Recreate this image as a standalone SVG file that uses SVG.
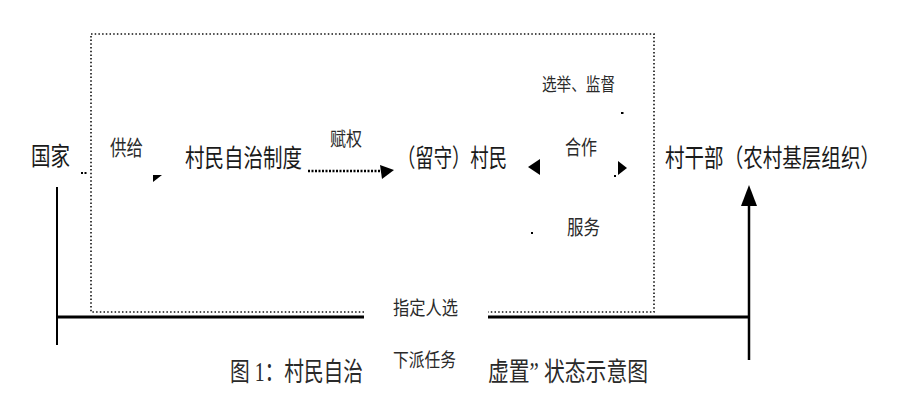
<svg xmlns="http://www.w3.org/2000/svg" width="919" height="412" viewBox="0 0 919 412">
<style>
  text { font-family: "Liberation Serif", "Noto Sans CJK SC", serif; fill: #1a1a1a; }
  .main { font-size: 22px; }
  .lbl { font-size: 19px; fill: #2a2a2a; }
  .cap { font-size: 23px; fill: #2a2a2a; }
  .dot { fill: none; stroke: #111; stroke-width: 1.6; stroke-dasharray: 1.5 2.2; }
  .solid { fill: none; stroke: #000; }
  .head { fill: #000; }
</style>
<rect width="919" height="412" fill="#fff"/>

<g id="connectors">
  <path class="dot" d="M91,34 H654 V312 H488 M364,312 H91 V34"/>
  <line class="solid" x1="57" y1="317" x2="364" y2="317" stroke-width="3"/>
  <line class="solid" x1="488" y1="317" x2="749" y2="317" stroke-width="3"/>
  <line class="solid" x1="57" y1="187" x2="57" y2="345" stroke-width="2"/>
  <line class="solid" x1="749" y1="200" x2="749" y2="360" stroke-width="2.5"/>
  <polygon class="head" points="749,185 757,206 741,206"/>
  <line x1="308" y1="171" x2="383" y2="171" stroke="#000" stroke-width="2.5" stroke-dasharray="2 1.5"/>
  <polygon class="head" points="380,165 394,170 382,179"/>
  <polygon class="head" points="528,167 540,159 540,175"/>
  <polygon class="head" points="627,168 618,161 618,175"/>
  <polygon class="head" points="153,175 162,175 153,182"/>
  <rect class="head" x="81" y="172" width="2" height="2"/>
  <rect class="head" x="84.5" y="172" width="2" height="2"/>
  <rect class="head" x="621" y="112" width="2.5" height="2"/>
  <rect class="head" x="614" y="175" width="2" height="2"/>
  <rect class="head" x="531" y="232" width="2" height="2"/>
</g>

<g id="node-guojia">
  <text class="main" transform="translate(31,165) scale(1,1.14)" x="0" y="0" textLength="39" lengthAdjust="spacingAndGlyphs">国家</text>
</g>
<g id="node-zhidu">
  <text class="main" transform="translate(185,167) scale(1,1.14)" x="0" y="0" textLength="117" lengthAdjust="spacingAndGlyphs">村民自治制度</text>
</g>
<g id="node-cunmin">
  <text class="main" transform="translate(397,167) scale(1,1.14)" x="0" y="0" textLength="110" lengthAdjust="spacingAndGlyphs">（留守）村民</text>
</g>
<g id="node-cunganbu">
  <text class="main" transform="translate(665,167) scale(1,1.14)" x="0" y="0" textLength="215" lengthAdjust="spacingAndGlyphs">村干部（农村基层组织）</text>
</g>

<g id="labels">
  <text class="lbl" x="110" y="155" style="font-size:21px" textLength="33" lengthAdjust="spacingAndGlyphs">供给</text>
  <text class="lbl" x="330" y="146" textLength="32" lengthAdjust="spacingAndGlyphs">赋权</text>
  <text class="lbl" x="542" y="91" style="font-size:18px" textLength="73" lengthAdjust="spacingAndGlyphs">选举、监督</text>
  <text class="lbl" x="565" y="155" style="font-size:20px" textLength="32" lengthAdjust="spacingAndGlyphs">合作</text>
  <text class="lbl" x="567" y="235" style="font-size:20px" textLength="33" lengthAdjust="spacingAndGlyphs">服务</text>
  <text class="lbl" x="393" y="315" textLength="65" lengthAdjust="spacingAndGlyphs">指定人选</text>
  <text class="lbl" x="393" y="367" textLength="63" lengthAdjust="spacingAndGlyphs">下派任务</text>
</g>

<g id="caption">
  <text class="cap" transform="translate(230,381) scale(1,1.15)" x="0" y="0" textLength="133" lengthAdjust="spacingAndGlyphs">图 1：村民自治</text>
  <text class="cap" transform="translate(488,381) scale(1,1.15)" x="0" y="0" textLength="160" lengthAdjust="spacingAndGlyphs">虚置” 状态示意图</text>
</g>
</svg>
